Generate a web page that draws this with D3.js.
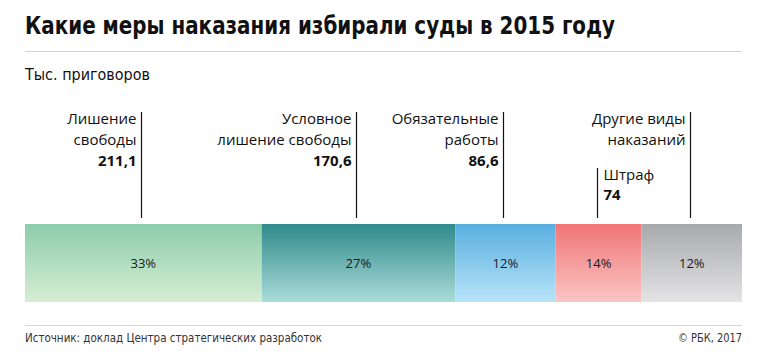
<!DOCTYPE html>
<html><head><meta charset="utf-8">
<script src="https://cdn.jsdelivr.net/npm/d3@7"></script>
<style>
body{margin:0;background:#fff;}
svg{display:block;}
</style></head>
<body>
<script>
const title = "Какие меры наказания избирали суды в 2015 году";
const subtitle = "Тыс. приговоров";
const source = "Источник: доклад Центра стратегических разработок";
const copyright = "© РБК, 2017";

const categories = ["Лишение свободы", "Условное лишение свободы", "Обязательные работы", "Штраф", "Другие виды наказаний"];
const labelLines = [["Лишение", "свободы"], ["Условное", "лишение свободы"], ["Обязательные", "работы"], ["Штраф"], ["Другие виды", "наказаний"]];
const valueLabels = ["211,1", "170,6", "86,6", "74", ""];
const shares = [33, 27, 14, 12, 14];
const pctLabels = ["33%", "27%", "12%", "14%", "12%"];
const topColors = ["#8ccdab", "#2f8a8b", "#59afe0", "#f17476", "#a8a9ad"];
const bottomColors = ["#d7edd4", "#abdcd9", "#b8e4f9", "#f9c6c4", "#e4e4e5"];

const W = 768, H = 355;
const svg = d3.select("body").append("svg").attr("width", W).attr("height", H);
const defs = svg.append("defs");

const condensed = "'Liberation Sans Narrow','DejaVu Sans Condensed','Roboto',sans-serif";
const sans = "'Open Sans','Noto Sans',sans-serif";

svg.append("text").attr("x", 25).attr("y", 34)
  .attr("font-family", condensed).attr("font-weight", "bold").attr("font-size", 24)
  .attr("font-stretch", "condensed")
  .attr("textLength", 590).attr("lengthAdjust", "spacingAndGlyphs")
  .attr("fill", "#111").text(title);

svg.append("line").attr("x1", 25).attr("x2", 742).attr("y1", 51.5).attr("y2", 51.5)
  .attr("stroke", "#d4d4d4").attr("stroke-width", 1);

svg.append("text").attr("x", 25).attr("y", 80)
  .attr("font-family", condensed).attr("font-size", 15).attr("font-stretch", "condensed")
  .attr("textLength", 125).attr("lengthAdjust", "spacingAndGlyphs")
  .attr("fill", "#111").text(subtitle);

// stacked bar
const cum = [];
shares.reduce((a, v, i) => { cum.push([a, a + v]); return a + v; }, 0);
const x = d3.scaleLinear().domain([0, d3.sum(shares)]).range([25, 742]);
const y = d3.scaleLinear().domain([0, 1]).range([302, 224]);

shares.forEach((s, i) => {
  const g = defs.append("linearGradient").attr("id", "g" + i)
    .attr("x1", 0).attr("y1", 0).attr("x2", 0).attr("y2", 1);
  g.append("stop").attr("offset", "0%").attr("stop-color", topColors[i]);
  g.append("stop").attr("offset", "100%").attr("stop-color", bottomColors[i]);
});

const seg = svg.append("g").selectAll("g").data(shares).join("g");
seg.append("rect")
  .attr("x", (d, i) => x(cum[i][0]))
  .attr("width", (d, i) => x(cum[i][1]) - x(cum[i][0]))
  .attr("y", y(1)).attr("height", y(0) - y(1))
  .attr("fill", (d, i) => `url(#g${i})`);
seg.append("text")
  .attr("x", (d, i) => (x(cum[i][0]) + x(cum[i][1])) / 2)
  .attr("y", (y(0) + y(1)) / 2 + 4.5)
  .attr("text-anchor", "middle")
  .attr("font-family", sans).attr("font-size", 13).attr("fill", "#1a1a1a")
  .text((d, i) => pctLabels[i]);

// leader lines and labels
const lineTop = [112, 112, 112, 168, 112];
const leftSide = [true, true, true, false, true];
const lab = svg.append("g").selectAll("g").data(categories).join("g");
const lx = i => Math.round((x(cum[i][0]) + x(cum[i][1])) / 2) - 1.5;
lab.append("line")
  .attr("x1", (d, i) => lx(i)).attr("x2", (d, i) => lx(i))
  .attr("y1", (d, i) => lineTop[i]).attr("y2", 218)
  .attr("stroke", "#111").attr("stroke-width", 1.2);
lab.each(function(d, i) {
  const g = d3.select(this);
  const left = leftSide[i];
  const tx = left ? lx(i) - 5 : lx(i) + 6;
  const t = g.append("text")
    .attr("x", tx).attr("y", lineTop[i] + 12)
    .attr("text-anchor", left ? "end" : "start")
    .attr("font-family", sans).attr("font-size", 15).attr("fill", "#111");
  const lines = labelLines[i];
  lines.forEach((ln, k) => {
    t.append("tspan").attr("x", tx).attr("dy", k === 0 ? 0 : 21).text(ln);
  });
  if (valueLabels[i]) {
    t.append("tspan").attr("x", tx).attr("dy", left ? 21 : 20)
      .attr("font-weight", "bold").text(valueLabels[i]);
  }
});

svg.append("line").attr("x1", 25).attr("x2", 742).attr("y1", 325.5).attr("y2", 325.5)
  .attr("stroke", "#d4d4d4").attr("stroke-width", 1);
svg.append("text").attr("x", 25).attr("y", 342)
  .attr("font-family", condensed).attr("font-size", 13).attr("font-stretch", "condensed")
  .attr("textLength", 297).attr("lengthAdjust", "spacingAndGlyphs")
  .attr("fill", "#333").text(source);
svg.append("text").attr("x", 742).attr("y", 342).attr("text-anchor", "end")
  .attr("font-family", condensed).attr("font-size", 13).attr("font-stretch", "condensed")
  .attr("textLength", 64).attr("lengthAdjust", "spacingAndGlyphs")
  .attr("fill", "#333").text(copyright);
</script>
</body></html>
